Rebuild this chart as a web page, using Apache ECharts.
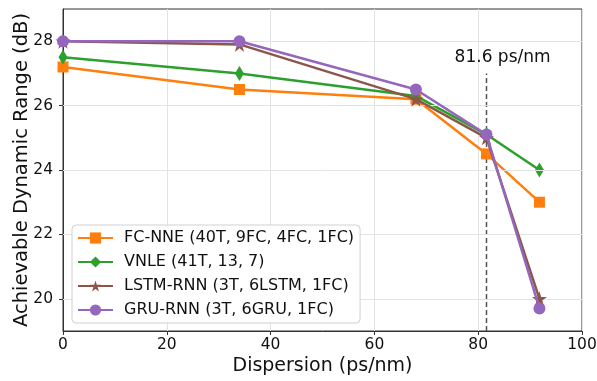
<!DOCTYPE html>
<html>
<head>
<meta charset="utf-8">
<script src="https://cdn.jsdelivr.net/npm/echarts@6/dist/echarts.min.js"></script>
<style>html,body{margin:0;padding:0;background:#fff}#c{width:597px;height:381px}</style>
</head>
<body>
<div id="c"></div>
<script>
const dispersion = [0, 34, 68, 81.6, 91.8];
const fcNNE = [27.2, 26.5, 26.2, 24.5, 23.0];
const vnle = [27.5, 27.0, 26.3, 25.1, 24.0];
const lstmRNN = [28.0, 27.9, 26.2, 25.0, 20.0];
const gruRNN = [28.0, 28.0, 26.5, 25.1, 19.7];
const seriesNames = ['FC-NNE (40T, 9FC, 4FC, 1FC)', 'VNLE (41T, 13, 7)', 'LSTM-RNN (3T, 6LSTM, 1FC)', 'GRU-RNN (3T, 6GRU, 1FC)'];
const yTicks = [20, 22, 24, 26, 28];
const xTicks = [0, 20, 40, 60, 80, 100];
const cdValue = 81.6;
const cdLineY = [19, 27];
const annotText = '81.6 ps/nm';
const annotPos = [84.7, 27.5];

const FONT = 'DejaVu Sans';
const colors = ['#ff7f0e', '#2ca02c', '#8c564b', '#9467bd'];
const symbols = ['rect', 'diamond', 'path://M50,0 L61.2,34.5 L97.6,34.5 L68.2,55.9 L79.4,90.5 L50,69.1 L20.6,90.5 L31.8,55.9 L2.4,34.5 L38.8,34.5 Z', 'circle'];
const symbolSizes = [11, [9, 15], 15, 12];
const values = [fcNNE, vnle, lstmRNN, gruRNN];

const chart = echarts.init(document.getElementById('c'));

const lineSeries = values.map((v, i) => ({
  name: seriesNames[i],
  type: 'line',
  data: dispersion.map((x, j) => [x, v[j]]),
  symbol: symbols[i],
  symbolSize: symbolSizes[i],
  lineStyle: { width: 2.5, color: colors[i] },
  itemStyle: { color: colors[i] },
  z: 3 + i,
  animation: false
}));

const option = {
  animation: false,
  grid: { left: 63, right: 15, top: 9, bottom: 50, outerBoundsMode: 'none', containLabel: false, show: true, borderColor: '#333', borderWidth: 1, backgroundColor: '#fff' },
  xAxis: {
    type: 'value', min: 0, max: 100, interval: 20,
    name: 'Dispersion (ps/nm)', nameLocation: 'middle', nameGap: 26, nameMoveOverlap: false,
    nameTextStyle: { fontFamily: FONT, fontSize: 19, color: '#111' },
    axisLine: { show: true, lineStyle: { color: '#333', width: 1 } },
    axisTick: { show: true, length: 4, lineStyle: { color: '#333' } },
    axisLabel: { fontFamily: FONT, fontSize: 15.5, color: '#111', margin: 6, formatter: v => xTicks.includes(v) ? String(v) : '' },
    splitLine: { show: true, lineStyle: { color: '#e3e3e3', width: 1 } }
  },
  yAxis: {
    type: 'value', min: 19, max: 29,
    name: 'Achievable Dynamic Range (dB)', nameLocation: 'middle', nameGap: 31, nameMoveOverlap: false,
    nameTextStyle: { fontFamily: FONT, fontSize: 19.5, color: '#111' },
    axisLine: { show: true, lineStyle: { color: '#333', width: 1 } },
    axisTick: { show: true, length: 4, lineStyle: { color: '#333' }, customValues: yTicks },
    axisLabel: { fontFamily: FONT, fontSize: 15.5, color: '#111', margin: 10, customValues: yTicks },
    splitLine: { show: false }
  },
  legend: {
    data: seriesNames,
    orient: 'vertical', left: 72, top: 225, z: 50,
    padding: [5, 6, 5, 5],
    itemWidth: 35, itemHeight: 14, itemGap: 8,
    backgroundColor: 'rgba(255,255,255,0.9)',
    borderColor: '#d0d0d0', borderWidth: 1, borderRadius: 4,
    textStyle: { fontFamily: FONT, fontSize: 16, color: '#111', padding: [0, 0, 0, 6] }
  },
  series: [
    {
      type: 'line', data: [], silent: true, z: 1,
      markLine: {
        silent: true, symbol: ['none', 'none'], label: { show: false },
        lineStyle: { color: '#e3e3e3', width: 1, type: 'solid' },
        data: yTicks.map(t => ({ yAxis: t })),
        animation: false
      }
    },
    {
      type: 'line', data: cdLineY.map(y => [cdValue, y]), symbol: 'none', silent: true, z: 2,
      lineStyle: { color: '#555', width: 1.5, type: [5, 3] }
    },
    {
      type: 'scatter', data: [annotPos], symbolSize: 0, silent: true, z: 10,
      itemStyle: { opacity: 1, color: '#111' },
      label: { show: true, position: 'inside', formatter: annotText, fontFamily: FONT, fontSize: 17, color: '#111', opacity: 1 }
    },
    ...lineSeries
  ]
};
chart.setOption(option);
</script>
</body>
</html>
